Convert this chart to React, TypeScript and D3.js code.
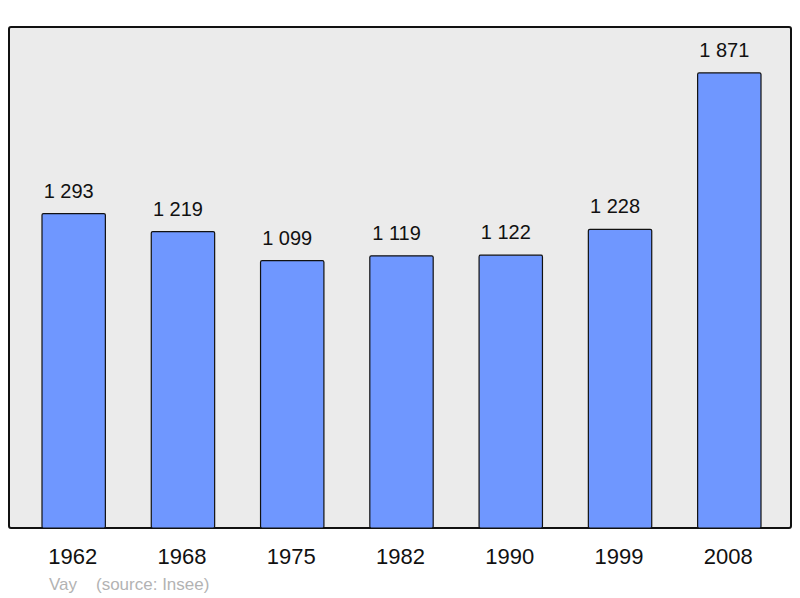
import React from 'react';
import * as d3 from 'd3';

// population by census year
const years = ['1962', '1968', '1975', '1982', '1990', '1999', '2008'];
const population = [1293, 1219, 1099, 1119, 1122, 1228, 1871];
const townName = 'Vay';
const sourceText = '(source: Insee)';

const width = 800;
const height = 598;
const frame = { left: 9, top: 27, right: 791, bottom: 528 };

const fmt = (v: number) => d3.format(',')(v).replace(/,/g, ' ');

export default function App() {
  const x = d3.scaleBand<string>()
    .domain(years)
    .range([42, 761])
    .paddingInner(0.42)
    .paddingOuter(0);

  const y = d3.scaleLinear()
    .domain([0, 2060])
    .range([frame.bottom, frame.top]);

  return (
    <svg width={width} height={height} style={{ position: 'absolute', left: 0, top: 0 }}
      fontFamily="'Liberation Sans', Arial, sans-serif">
      <rect x={frame.left} y={frame.top} width={frame.right - frame.left} height={frame.bottom - frame.top}
        rx={2} fill="#ebebeb" stroke="#111" strokeWidth={2} />
      {years.map((yr, i) => (
        <g key={yr}>
          <rect x={x(yr)} y={y(population[i])} width={x.bandwidth()} height={y(0) - y(population[i])}
            rx={1.5} fill="#6f97ff" stroke="#111" strokeWidth={1.2} />
          <text x={(x(yr) as number) + x.bandwidth() / 2 - 5} y={y(population[i]) - 16}
            textAnchor="middle" fontSize={20} fill="#111">{fmt(population[i])}</text>
          <text x={(x(yr) as number) + x.bandwidth() / 2 - 1} y={564}
            textAnchor="middle" fontSize={22} fill="#111">{yr}</text>
        </g>
      ))}
      <text x={49} y={590} fontSize={17} fill="#b3b3b3">{townName}</text>
      <text x={96} y={590} fontSize={17} fill="#b3b3b3">{sourceText}</text>
    </svg>
  );
}
